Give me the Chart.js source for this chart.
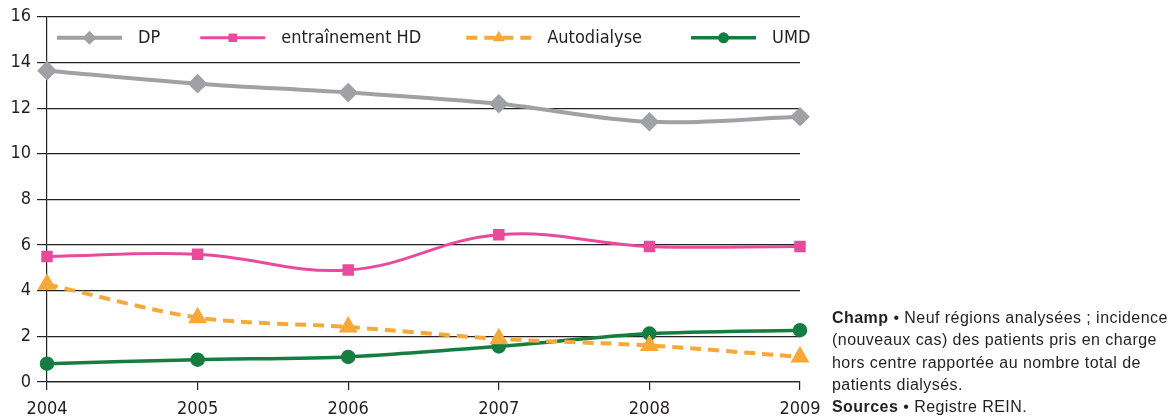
<!DOCTYPE html>
<html>
<head>
<meta charset="utf-8">
<script src="https://cdn.jsdelivr.net/npm/chart.js@4/dist/chart.umd.min.js"></script>
<style>
  html, body { margin: 0; padding: 0; background: #fff; }
  #wrap { position: relative; width: 1176px; height: 417px; }
  #note {
    position: absolute; left: 832px; top: 307px; width: 344px;
    font-family: "Liberation Sans", Arial, sans-serif; font-size: 16px;
    letter-spacing: 0.45px;
    line-height: 22.3px; color: #231f20; white-space: nowrap;
  }
</style>
</head>
<body>
<div id="wrap">
  <canvas id="incidenceChart" width="1176" height="417"></canvas>
  <div id="note">
    <b>Champ</b> • Neuf régions analysées ; incidence<br>
    (nouveaux cas) des patients pris en charge<br>
    hors centre rapportée au nombre total de<br>
    patients dialysés.<br>
    <b>Sources</b> • Registre REIN.
  </div>
</div>
<script>
// Values
const years = ['2004', '2005', '2006', '2007', '2008', '2009'];
const dpValues = [13.64, 13.07, 12.68, 12.19, 11.40, 11.62];
const hdValues = [5.50, 5.60, 4.91, 6.45, 5.94, 5.94];
const autoValues = [4.28, 2.82, 2.41, 1.89, 1.60, 1.10];
const umdValues = [0.80, 0.98, 1.10, 1.56, 2.12, 2.27];
const yTicks = [0, 2, 4, 6, 8, 10, 12, 14, 16];

const FONT = '"DejaVu Sans Condensed", "DejaVu Sans", sans-serif';
const TEXT = '#231f20';
// "weight" slot is used to also pass the condensed stretch to the canvas font
const tickFont = { family: FONT, size: 18, weight: 'normal condensed' };

// legend drawn inside the plot, across the top band
const innerLegend = {
  id: 'innerLegend',
  afterDraw(chart) {
    const ctx = chart.ctx;
    const area = chart.chartArea;
    const y = area.top + 21;
    let x = area.left + 10;
    ctx.save();
    ctx.font = 'normal condensed 18px ' + FONT;
    ctx.textBaseline = 'middle';
    chart.data.datasets.forEach(ds => {
      ctx.strokeStyle = ds.borderColor;
      ctx.lineWidth = ds.borderWidth;
      ctx.setLineDash(ds.borderDash || []);
      ctx.beginPath();
      ctx.moveTo(x, y);
      ctx.lineTo(x + 65, y);
      ctx.stroke();
      ctx.setLineDash([]);
      ctx.fillStyle = ds.pointBackgroundColor;
      Chart.helpers.drawPoint(ctx, {
        pointStyle: ds.pointStyle, radius: ds.pointRadius, borderWidth: 0
      }, x + 32.5, y);
      ctx.fillStyle = TEXT;
      ctx.fillText(ds.label, x + 81, y + 1);
      x += 81 + ctx.measureText(ds.label).width + ds.legendGap;
    });
    ctx.restore();
  }
};

const ctx = document.getElementById('incidenceChart').getContext('2d');
new Chart(ctx, {
  type: 'line',
  data: {
    labels: years,
    datasets: [
      {
        label: 'DP', data: dpValues,
        borderColor: '#a0a1a5', pointBackgroundColor: '#a0a1a5',
        borderWidth: 4, pointStyle: 'rectRot', pointRadius: 7,
        tension: 0.35, legendGap: 40
      },
      {
        label: 'entraînement HD', data: hdValues,
        borderColor: '#e94b9c', pointBackgroundColor: '#e94b9c',
        borderWidth: 3, pointStyle: 'rect', pointRadius: 6,
        tension: 0.4, legendGap: 45
      },
      {
        label: 'Autodialyse', data: autoValues,
        borderColor: '#f6a838', pointBackgroundColor: '#f6a838',
        borderWidth: 4, borderDash: [11, 7], pointStyle: 'triangle', pointRadius: 7,
        tension: 0.3, legendGap: 49
      },
      {
        label: 'UMD', data: umdValues,
        borderColor: '#167d40', pointBackgroundColor: '#167d40',
        borderWidth: 3.5, pointStyle: 'circle', pointRadius: 5.5,
        tension: 0.25, legendGap: 0
      }
    ]
  },
  options: {
    responsive: false,
    animation: false,
    layout: { padding: { top: 16, right: 376, left: 0, bottom: 0 } },
    plugins: {
      legend: { display: false },
      tooltip: { enabled: false }
    },
    elements: { point: { borderWidth: 0, hoverRadius: 6 } },
    scales: {
      x: {
        offset: false,
        grid: { drawOnChartArea: false, drawTicks: true, tickLength: 8, color: '#222', lineWidth: 1.2 },
        border: { display: true, color: '#222', width: 1.2 },
        ticks: { color: TEXT, font: tickFont, padding: 9, maxRotation: 0 },
        afterFit(scale) { scale.height = 35; }
      },
      y: {
        min: 0, max: 16,
        afterBuildTicks(scale) { scale.ticks = yTicks.map(v => ({ value: v })); },
        grid: { color: '#222', lineWidth: 1.2, tickLength: 10 },
        border: { display: true, color: '#222', width: 1.2 },
        ticks: { color: TEXT, font: tickFont, padding: 6 },
        afterFit(scale) { scale.width = 47; }
      }
    }
  },
  plugins: [innerLegend]
});
</script>
</body>
</html>
